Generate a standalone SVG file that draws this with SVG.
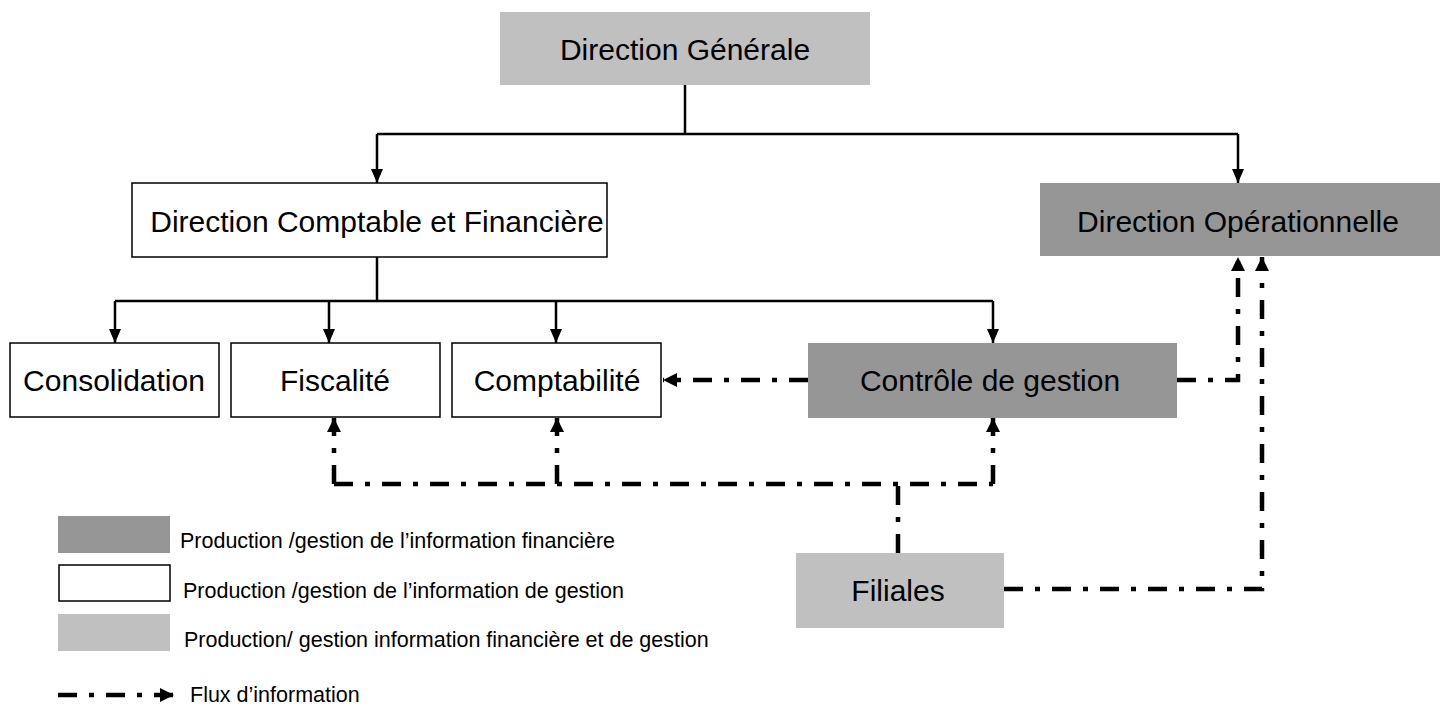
<svg xmlns="http://www.w3.org/2000/svg" width="1440" height="709" viewBox="0 0 1440 709">
<style>
.node text{font-family:"Liberation Sans",Arial,sans-serif;font-size:30px;fill:#000;text-anchor:middle}
.dark{fill:#969696}
.light{fill:#C0C0C0}
.white{fill:#fff;stroke:#000;stroke-width:1.5}
.solid{fill:none;stroke:#000;stroke-width:2.5}
.flow{fill:none;stroke:#000;stroke-width:4.5;stroke-dasharray:19 12 5 12}
.leg{font-family:"Liberation Sans",Arial,sans-serif;font-size:21.5px;fill:#000}
</style>
<defs>
<marker id="ah" markerUnits="userSpaceOnUse" viewBox="0 0 14 12" refX="14" refY="6" markerWidth="14" markerHeight="12" orient="auto">
<path d="M0 0 L14 6 L0 12 Z" fill="#000"/>
</marker>
<marker id="af" markerUnits="userSpaceOnUse" viewBox="0 0 14 14" refX="14" refY="7" markerWidth="14" markerHeight="14" orient="auto">
<path d="M0 0 L14 7 L0 14 Z" fill="#000"/>
</marker>
</defs>

<g id="direction-generale" class="node">
<rect class="light" x="500" y="12" width="370" height="73"/>
<text x="685" y="60">Direction Générale</text>
</g>
<g id="direction-comptable" class="node">
<rect class="white" x="132" y="183" width="475" height="74"/>
<text x="377" y="232">Direction Comptable et Financière</text>
</g>
<g id="direction-operationnelle" class="node">
<rect class="dark" x="1040" y="183" width="400" height="73"/>
<text x="1238" y="232">Direction Opérationnelle</text>
</g>
<g id="consolidation" class="node">
<rect class="white" x="10" y="343" width="209" height="74"/>
<text x="114" y="391">Consolidation</text>
</g>
<g id="fiscalite" class="node">
<rect class="white" x="231" y="343" width="209" height="74"/>
<text x="335" y="391">Fiscalité</text>
</g>
<g id="comptabilite" class="node">
<rect class="white" x="452" y="343" width="209" height="74"/>
<text x="557" y="391">Comptabilité</text>
</g>
<g id="controle-de-gestion" class="node">
<rect class="dark" x="808" y="343" width="369" height="75"/>
<text x="990" y="391">Contrôle de gestion</text>
</g>
<g id="filiales" class="node">
<rect class="light" x="796" y="553" width="208" height="75"/>
<text x="898" y="601">Filiales</text>
</g>

<g id="connectors">
<path class="solid" d="M685 85 V134"/>
<path class="solid" d="M377 134 H1238"/>
<path class="solid" d="M377 134 V183" marker-end="url(#ah)"/>
<path class="solid" d="M1238 134 V183" marker-end="url(#ah)"/>
<path class="solid" d="M377 257 V301"/>
<path class="solid" d="M115 301 H993"/>
<path class="solid" d="M115 301 V343" marker-end="url(#ah)"/>
<path class="solid" d="M329 301 V343" marker-end="url(#ah)"/>
<path class="solid" d="M556 301 V343" marker-end="url(#ah)"/>
<path class="solid" d="M993 301 V343" marker-end="url(#ah)"/>

<path class="flow" d="M808 380 H663" marker-end="url(#af)"/>
<path class="flow" d="M1177 380 H1238 V257" marker-end="url(#af)"/>
<path class="flow" d="M1004 589 H1262 V257" marker-end="url(#af)"/>
<path class="flow" d="M898 553 V484"/>
<path class="flow" d="M334 484 H993"/>
<path class="flow" d="M334 484 V418" marker-end="url(#af)"/>
<path class="flow" d="M557 484 V418" marker-end="url(#af)"/>
<path class="flow" d="M993 484 V418" marker-end="url(#af)"/>
</g>

<g id="legend">
<rect class="dark" x="58" y="516" width="112" height="37"/>
<text class="leg" x="180" y="548">Production /gestion de l’information financière</text>
<rect class="white" x="59" y="565" width="111" height="36"/>
<text class="leg" x="183" y="598">Production /gestion de l’information de gestion</text>
<rect class="light" x="58" y="614" width="112" height="37"/>
<text class="leg" x="184" y="647">Production/ gestion information financière et de gestion</text>
<path class="flow" d="M58 695 H174" marker-end="url(#af)"/>
<text class="leg" x="190" y="702">Flux d’information</text>
</g>
</svg>
